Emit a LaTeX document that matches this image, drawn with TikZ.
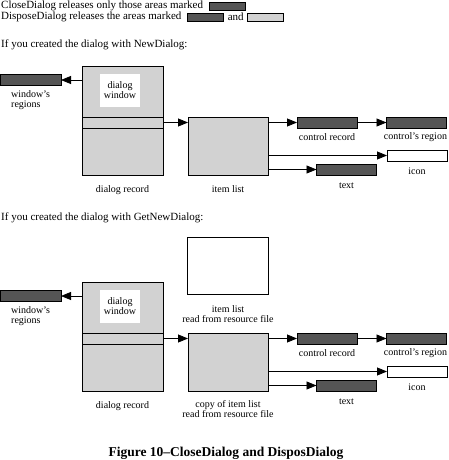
\documentclass[tikz,border=0pt]{standalone}
\usepackage{fontspec}
\setmainfont{Liberation Serif}
\usetikzlibrary{arrows.meta,positioning}
\definecolor{darkfill}{RGB}{85,85,85}
\definecolor{lightfill}{RGB}{210,210,210}

\begin{document}
\begin{tikzpicture}[x=1pt,y=-1pt,>={Triangle[length=10pt,width=8pt]},
  every node/.style={font=\fontsize{10}{10}\selectfont,inner sep=1pt},
  line/.style={anchor=west,font=\fontsize{11}{11}\selectfont},
  box/.style={draw,line width=0.8pt,inner sep=0pt,outer sep=0pt},
  darkbox/.style={box,fill=darkfill},
  lightbox/.style={box,fill=lightfill},
  whitebox/.style={box,fill=white},
  key/.style={minimum width=36pt,minimum height=8pt},
  bar/.style={minimum width=60pt,minimum height=11pt},
  link/.style={->,line width=0.8pt}]
  \useasboundingbox (0,0) rectangle (448,460);

  % legend
  \node[line] (close) at (0,6) {CloseDialog releases only those areas marked};
  \node[darkbox,key,right=5pt of close] (closekey) {};
  \node[line] (dispose) at (0,17) {DisposeDialog releases the areas marked};
  \node[darkbox,key,right=5pt of dispose] (disposekey) {};
  \node[right=3pt of disposekey,font=\fontsize{11}{11}\selectfont] (and) {and};
  \node[lightbox,key,right=3pt of and] (lightkey) {};

  % NewDialog
  \node[line] (head1) at (0,45) {If you created the dialog with NewDialog:};
  \node[darkbox,bar,minimum width=61pt] (win1) at (30.5,80) {};
  \node[anchor=west,align=left] (win1lbl) at (10,100) {window's\\regions};
  \node[lightbox,minimum width=81pt,minimum height=109pt] (dr1) at (122.5,120.5) {};
  \node[fill=white,minimum width=40pt,minimum height=33pt,align=center] (dw1) at (120,90.5) {dialog\\window};
  \draw[box] (82,117) -- (163,117) (82,128) -- (163,128);
  \node (dr1lbl) at (122.5,190) {dialog record};
  \draw[link] (dr1.west |- win1.east) -- (win1.east);
  \coordinate (band1) at (122.5,122.5);
  \node[lightbox,minimum width=80pt,minimum height=58pt] (il1) at (228,146) {};
  \node (il1lbl) at (228,189) {item list};
  \draw[link] (dr1.east |- band1) -- (il1.west |- band1);
  \node[darkbox,bar] (cr1) at (327,122.5) {};
  \node (cr1lbl) at (327,137) {control record};
  \node[darkbox,bar] (cg1) at (416.5,122.5) {};
  \node (cg1lbl) at (415.5,137) {control's region};
  \node[whitebox,bar] (ic1) at (417,155.5) {};
  \node (ic1lbl) at (417,171) {icon};
  \node[darkbox,bar] (tx1) at (346.5,169.5) {};
  \node (tx1lbl) at (346.5,186) {text};
  \draw[link] (il1.east |- cr1.west) -- (cr1.west);
  \draw[link] (cr1) -- (cg1);
  \draw[link] (il1.east |- ic1.west) -- (ic1.west);
  \draw[link] (il1.east |- tx1.west) -- (tx1.west);

  % GetNewDialog
  \node[line] (head2) at (0,218) {If you created the dialog with GetNewDialog:};
  \node[whitebox,minimum width=81pt,minimum height=57pt] (rs2) at (227.5,265.5) {};
  \node[align=center] (rs2lbl) at (228,314) {item list\\read from resource file};
  \node[darkbox,bar,minimum width=61pt] (win2) at (30.5,296) {};
  \node[anchor=west,align=left] (win2lbl) at (10,316) {window's\\regions};
  \node[lightbox,minimum width=81pt,minimum height=109pt] (dr2) at (122.5,336.5) {};
  \node[fill=white,minimum width=40pt,minimum height=33pt,align=center] (dw2) at (120,306.5) {dialog\\window};
  \draw[box] (82,333) -- (163,333) (82,344) -- (163,344);
  \node (dr2lbl) at (122.5,406) {dialog record};
  \draw[link] (dr2.west |- win2.east) -- (win2.east);
  \coordinate (band2) at (122.5,338.5);
  \node[lightbox,minimum width=80pt,minimum height=58pt] (il2) at (228,362) {};
  \node[align=center] (il2lbl) at (228,409) {copy of item list\\read from resource file};
  \draw[link] (dr2.east |- band2) -- (il2.west |- band2);
  \node[darkbox,bar] (cr2) at (327,338.5) {};
  \node (cr2lbl) at (327,353) {control record};
  \node[darkbox,bar] (cg2) at (416.5,338.5) {};
  \node (cg2lbl) at (415.5,353) {control's region};
  \node[whitebox,bar] (ic2) at (417,371.5) {};
  \node (ic2lbl) at (417,387) {icon};
  \node[darkbox,bar] (tx2) at (346.5,385.5) {};
  \node (tx2lbl) at (346.5,402) {text};
  \draw[link] (il2.east |- cr2.west) -- (cr2.west);
  \draw[link] (cr2) -- (cg2);
  \draw[link] (il2.east |- ic2.west) -- (ic2.west);
  \draw[link] (il2.east |- tx2.west) -- (tx2.west);

  \node[font=\bfseries\fontsize{13.5}{13.5}\selectfont] (title) at (226,453) {Figure 10--CloseDialog and DisposDialog};
\end{tikzpicture}
\end{document}
